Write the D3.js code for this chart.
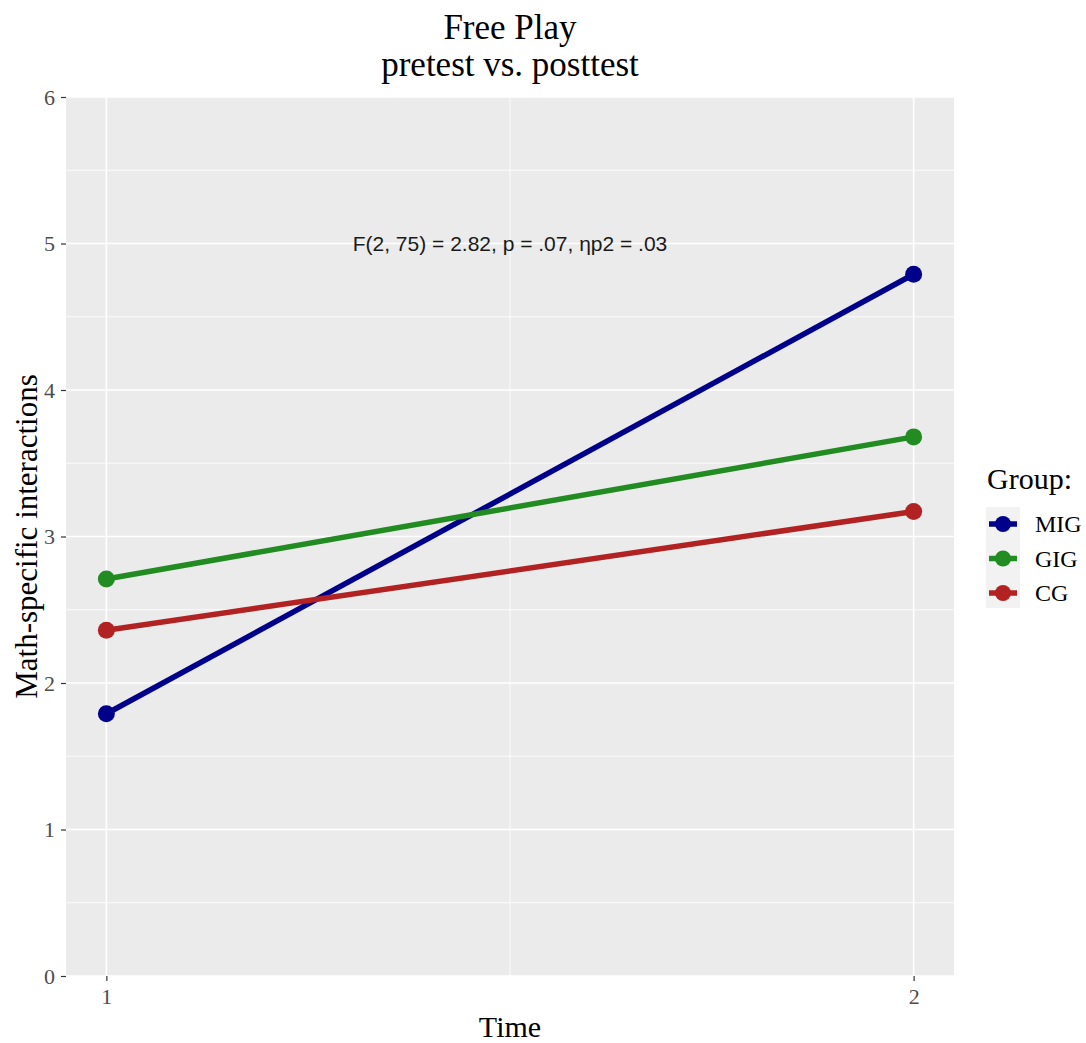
<!DOCTYPE html>
<html>
<head>
<meta charset="utf-8">
<script src="https://cdn.jsdelivr.net/npm/d3@7"></script>
<style>
  body { margin: 0; background: #fff; }
</style>
</head>
<body>
<svg id="chart" width="1086" height="1043"></svg>
<script>
// data
var groups = ["MIG", "GIG", "CG"];
var times = [1, 2];
var migValues = [1.79, 4.79];
var gigValues = [2.71, 3.68];
var cgValues = [2.36, 3.17];
var yTicks = [0, 1, 2, 3, 4, 5, 6];
var groupColors = ["#00008b", "#228b22", "#b22222"];
var annotation = "F(2, 75) = 2.82, p = .07, \u03b7p2 = .03";

var series = [
	{group: "MIG", values: migValues},
	{group: "GIG", values: gigValues},
	{group: "CG", values: cgValues}
];

var serif = "'Liberation Serif', 'Times New Roman', serif";

var margin = {top: 97, left: 66, right: 132, bottom: 67},
	width = 1086 - margin.left - margin.right,
	height = 1043 - margin.top - margin.bottom;

var svg = d3.select("#chart");
var g = svg.append("g")
	.attr("transform", "translate(" + margin.left + ", " + margin.top + ")");

// ggplot style 5% expansion on x
var x = d3.scaleLinear()
	.domain([1 - 0.05, 2 + 0.05])
	.range([0, width]);

var y = d3.scaleLinear()
	.domain([0, 6])
	.range([height, 0]);

var color = d3.scaleOrdinal()
	.domain(groups)
	.range(groupColors);

g.append("rect")
	.attr("width", width)
	.attr("height", height)
	.attr("fill", "#ebebeb");

// minor grid
var yMinor = d3.range(0.5, 6, 1);
g.selectAll(".yminor")
	.data(yMinor)
	.enter()
	.append("line")
	.attr("x1", 0).attr("x2", width)
	.attr("y1", function(d) { return y(d); })
	.attr("y2", function(d) { return y(d); })
	.attr("stroke", "#fff")
	.attr("stroke-width", 0.8);

g.append("line")
	.attr("x1", x(1.5)).attr("x2", x(1.5))
	.attr("y1", 0).attr("y2", height)
	.attr("stroke", "#fff")
	.attr("stroke-width", 0.8);

// major grid
g.selectAll(".ymajor")
	.data(yTicks)
	.enter()
	.append("line")
	.attr("x1", 0).attr("x2", width)
	.attr("y1", function(d) { return y(d); })
	.attr("y2", function(d) { return y(d); })
	.attr("stroke", "#fff")
	.attr("stroke-width", 1.6);

g.selectAll(".xmajor")
	.data(times)
	.enter()
	.append("line")
	.attr("x1", function(d) { return x(d); })
	.attr("x2", function(d) { return x(d); })
	.attr("y1", 0).attr("y2", height)
	.attr("stroke", "#fff")
	.attr("stroke-width", 1.6);

// axes
var yAxis = g.append("g")
	.call(d3.axisLeft(y).tickValues(yTicks).tickFormat(d3.format("d")).tickSize(5).tickPadding(6));
var xAxis = g.append("g")
	.attr("transform", "translate(0," + height + ")")
	.call(d3.axisBottom(x).tickValues(times).tickFormat(d3.format("d")).tickSize(5).tickPadding(7));

[yAxis, xAxis].forEach(function(ax) {
	ax.attr("font-size", 22).attr("font-family", serif);
	ax.select(".domain").remove();
	ax.selectAll(".tick line").attr("stroke", "#333").attr("stroke-width", 1.2);
	ax.selectAll(".tick text").attr("fill", "#4d4d4d");
});

// lines and points
var line = d3.line()
	.x(function(d, i) { return x(times[i]); })
	.y(function(d) { return y(d); });

g.selectAll(".series")
	.data(series)
	.enter()
	.append("path")
	.attr("d", function(d) { return line(d.values); })
	.attr("fill", "none")
	.attr("stroke", function(d) { return color(d.group); })
	.attr("stroke-width", 5.5);

series.forEach(function(s) {
	g.selectAll(".pt-" + s.group)
		.data(s.values)
		.enter()
		.append("circle")
		.attr("cx", function(d, i) { return x(times[i]); })
		.attr("cy", function(d) { return y(d); })
		.attr("r", 8.5)
		.attr("fill", color(s.group));
});

g.append("text")
	.attr("x", x(1.5))
	.attr("y", y(5))
	.attr("dy", "0.35em")
	.attr("text-anchor", "middle")
	.attr("font-family", "'Liberation Sans', Arial, sans-serif")
	.attr("font-size", 21)
	.attr("fill", "#1a1a1a")
	.text(annotation);

// titles
svg.append("text")
	.attr("x", margin.left + width / 2)
	.attr("y", 39)
	.attr("text-anchor", "middle")
	.attr("font-family", serif)
	.attr("font-size", 35)
	.text("Free Play");
svg.append("text")
	.attr("x", margin.left + width / 2)
	.attr("y", 76)
	.attr("text-anchor", "middle")
	.attr("font-family", serif)
	.attr("font-size", 35)
	.text("pretest vs. posttest");

svg.append("text")
	.attr("x", margin.left + width / 2)
	.attr("y", 1037)
	.attr("text-anchor", "middle")
	.attr("font-family", serif)
	.attr("font-size", 30)
	.text("Time");

svg.append("text")
	.attr("transform", "translate(37," + (margin.top + height / 2) + ") rotate(-90)")
	.attr("text-anchor", "middle")
	.attr("font-family", serif)
	.attr("font-size", 31)
	.text("Math-specific interactions");

// legend
var legend = svg.append("g")
	.attr("transform", "translate(986, 0)");

legend.append("text")
	.attr("x", 1)
	.attr("y", 489)
	.attr("font-family", serif)
	.attr("font-size", 30)
	.text("Group:");

legend.append("rect")
	.attr("x", 0).attr("y", 507)
	.attr("width", 34).attr("height", 101)
	.attr("fill", "#f2f2f2");

var keys = legend.selectAll(".key")
	.data(groups)
	.enter()
	.append("g")
	.attr("transform", function(d, i) { return "translate(0," + (524 + i * 34.5) + ")"; });

keys.append("line")
	.attr("x1", 3).attr("x2", 31)
	.attr("stroke", function(d) { return color(d); })
	.attr("stroke-width", 5.5);
keys.append("circle")
	.attr("cx", 17)
	.attr("r", 8)
	.attr("fill", function(d) { return color(d); });
keys.append("text")
	.attr("x", 49)
	.attr("dy", "0.35em")
	.attr("font-family", serif)
	.attr("font-size", 24)
	.text(function(d) { return d; });
</script>
</body>
</html>
